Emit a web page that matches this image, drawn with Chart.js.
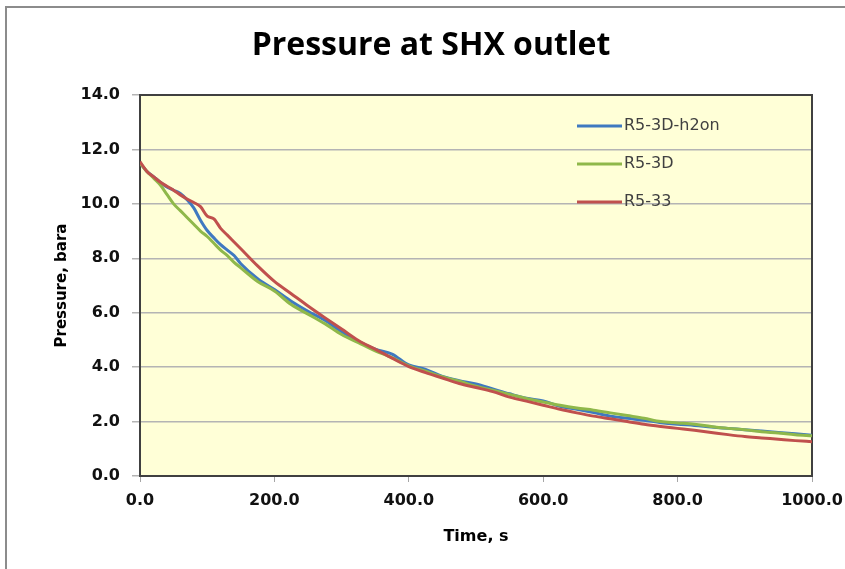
<!DOCTYPE html>
<html>
<head>
<meta charset="utf-8">
<script src="https://cdn.jsdelivr.net/npm/chart.js@4/dist/chart.umd.min.js"></script>
<style>
  html, body { margin: 0; padding: 0; background: #fff; }
  #wrap { position: relative; width: 845px; height: 569px; overflow: hidden; }
  #frame { position: absolute; left: 5px; top: 6px; width: 900px; height: 600px;
           border-left: 2px solid #8c8c8c; border-top: 2px solid #8c8c8c; }
  canvas { position: absolute; left: 0; top: 0; }
</style>
</head>
<body>
<div id="wrap">
  <div id="frame"></div>
  <canvas id="pressureChart" width="845" height="569"></canvas>
</div>
<script>
// time, s
const times = [0, 10, 20, 30, 40, 50, 60, 70, 80, 90, 100, 110, 120, 130, 140, 150,
  175, 200, 225, 250, 275, 300, 325, 350, 375, 400, 425, 450, 475, 500, 525, 550, 575,
  600, 625, 650, 675, 700, 725, 750, 775, 800, 825, 850, 875, 900, 925, 950, 975, 1000];

// pressure, bara
const h2onPressure = [11.5, 11.2, 11.0, 10.8, 10.62, 10.5, 10.38, 10.15, 9.85, 9.4, 9.02, 8.75, 8.5, 8.3, 8.1, 7.8,
  7.25, 6.85, 6.42, 6.05, 5.72, 5.3, 4.95, 4.66, 4.48, 4.08, 3.92, 3.66, 3.5, 3.38, 3.2, 3.02, 2.86,
  2.76, 2.56, 2.45, 2.33, 2.2, 2.12, 2.05, 1.96, 1.9, 1.86, 1.8, 1.75, 1.7, 1.65, 1.6, 1.55, 1.5];
const r53dPressure = [11.5, 11.2, 10.95, 10.7, 10.35, 10.0, 9.75, 9.5, 9.25, 9.0, 8.8, 8.55, 8.3, 8.1, 7.85, 7.65,
  7.15, 6.8, 6.3, 5.95, 5.6, 5.2, 4.9, 4.6, 4.35, 4.05, 3.85, 3.65, 3.48, 3.3, 3.15, 3.0, 2.85,
  2.72, 2.6, 2.5, 2.42, 2.32, 2.22, 2.12, 2.0, 1.95, 1.9, 1.82, 1.75, 1.7, 1.63, 1.58, 1.52, 1.48];
const r533Pressure = [11.55, 11.2, 11.0, 10.8, 10.65, 10.5, 10.33, 10.18, 10.05, 9.9, 9.55, 9.45, 9.1, 8.85, 8.6, 8.35,
  7.72, 7.15, 6.7, 6.25, 5.82, 5.4, 4.98, 4.66, 4.33, 4.02, 3.8, 3.6, 3.4, 3.25, 3.1, 2.9, 2.75,
  2.6, 2.45, 2.32, 2.2, 2.1, 2.0, 1.9, 1.82, 1.75, 1.68, 1.6, 1.52, 1.45, 1.4, 1.35, 1.3, 1.26];

const seriesNames = ['R5-3D-h2on', 'R5-3D', 'R5-33'];
const seriesColors = ['#3f79c0', '#8fb84a', '#c0504d'];

function toPoints(values) {
  return values.map((v, i) => ({ x: times[i], y: v }));
}

// plot fill, top/right frame, title and in-plot legend
const chartDecor = {
  id: 'chartDecor',
  beforeDraw(chart) {
    const { ctx, chartArea: a } = chart;
    ctx.save();
    ctx.fillStyle = '#ffffd7';
    ctx.fillRect(a.left, a.top, a.right - a.left, a.bottom - a.top);
    ctx.fillStyle = '#000';
    ctx.font = 'bold 32px "Open Sans"';
    ctx.textAlign = 'center';
    ctx.textBaseline = 'middle';
    ctx.fillText('Pressure at SHX outlet', 431, 46);
    ctx.restore();
  },
  beforeDatasetsDraw(chart) {
    const { ctx, chartArea: a } = chart;
    ctx.save();
    ctx.strokeStyle = '#404040';
    ctx.lineWidth = 2;
    ctx.strokeRect(a.left, a.top, a.right - a.left, a.bottom - a.top);
    ctx.restore();
  },
  afterDatasetsDraw(chart) {
    const { ctx, chartArea: a } = chart;
    ctx.save();
    ctx.font = '16px "DejaVu Sans"';
    ctx.textBaseline = 'middle';
    ctx.lineWidth = 3;
    seriesNames.forEach((name, i) => {
      const y = a.top + 31 + i * 38;
      ctx.strokeStyle = seriesColors[i];
      ctx.beginPath();
      ctx.moveTo(a.left + 437, y);
      ctx.lineTo(a.left + 482, y);
      ctx.stroke();
      ctx.fillStyle = '#404040';
      ctx.fillText(name, a.left + 484, y);
    });
    ctx.restore();
  }
};

const tickFont = { family: 'DejaVu Sans', weight: 'bold', size: 16 };

new Chart(document.getElementById('pressureChart'), {
  type: 'line',
  data: {
    datasets: [
      { label: seriesNames[0], data: toPoints(h2onPressure), borderColor: seriesColors[0], order: 2 },
      { label: seriesNames[1], data: toPoints(r53dPressure), borderColor: seriesColors[1], order: 1 },
      { label: seriesNames[2], data: toPoints(r533Pressure), borderColor: seriesColors[2], order: 0 }
    ]
  },
  options: {
    responsive: false,
    animation: false,
    layout: { padding: { left: 0, top: 95, right: 33, bottom: 0 } },
    elements: {
      point: { radius: 0 },
      line: { borderWidth: 3, cubicInterpolationMode: 'monotone' }
    },
    scales: {
      x: {
        type: 'linear',
        min: 0,
        max: 1000,
        afterFit: (scale) => {
          scale.height = 93;
          scale.paddingLeft = 0;
          scale.paddingRight = 0;
        },
        ticks: { stepSize: 200, color: '#111', font: tickFont, padding: 9, maxRotation: 0,
                 callback: (v) => v.toFixed(1) },
        grid: { drawOnChartArea: false, color: '#a6a6a6', tickLength: 6 },
        border: { color: '#404040', width: 2 },
        title: { display: true, text: 'Time, s', color: '#000',
                 font: { family: 'DejaVu Sans', weight: 'bold', size: 16 },
                 padding: { top: 0, bottom: 23 } }
      },
      y: {
        min: 0,
        max: 14,
        afterFit: (scale) => { scale.width = 140; },
        ticks: { stepSize: 2, color: '#111', font: tickFont, padding: 12,
                 callback: (v) => v.toFixed(1) },
        grid: { color: '#b4b4b4', lineWidth: 1.5, tickLength: 8 },
        border: { color: '#404040', width: 2 },
        title: { display: true, text: 'Pressure, bara', color: '#000',
                 font: { family: 'DejaVu Sans', weight: 'bold', size: 15 },
                 padding: { top: 53, bottom: 0 } }
      }
    },
    plugins: {
      legend: { display: false },
      tooltip: { enabled: false }
    }
  },
  plugins: [chartDecor]
});
</script>
</body>
</html>
